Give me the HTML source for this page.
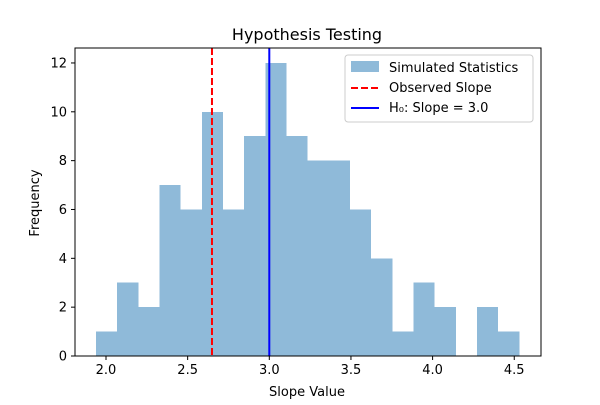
<!DOCTYPE html>
<html><head><meta charset="utf-8"><style>
body{margin:0;background:#fff;font-family:"Liberation Sans","DejaVu Sans",sans-serif;}
svg text{font-family:"DejaVu Sans","Liberation Sans",sans-serif;}
</style></head><body>
<svg id="c" width="600" height="400" xmlns="http://www.w3.org/2000/svg"></svg>
<script>
const counts=[1,3,2,7,6,10,6,9,12,9,8,8,6,4,1,3,2,0,2,1];
const binStart=1.939, binWidth=0.1296;
const observedSlope=2.649;
const nullSlope=3.0;
const xTicks=[2.0,2.5,3.0,3.5,4.0,4.5];
const xTickLabels=["2.0","2.5","3.0","3.5","4.0","4.5"];
const yTicks=[0,2,4,6,8,10,12];
const L=75,R=541,T=48,B=356;
const sx=v=>106+(v-2.0)*163.3;
const sy=v=>B-v*24.42;
const svg=document.getElementById('c');
const NS='http://www.w3.org/2000/svg';
function mk(tag,attrs,txt){const e=document.createElementNS(NS,tag);for(const k in attrs)e.setAttribute(k,attrs[k]);if(txt!==undefined)e.textContent=txt;svg.appendChild(e);return e;}
counts.forEach((c,i)=>{if(c<=0)return;
 const x0=sx(binStart+i*binWidth),x1=sx(binStart+(i+1)*binWidth);
 const r=mk('rect',{x:x0,y:sy(c),width:x1-x0,height:B-sy(c),fill:'#8fbad9','shape-rendering':'crispEdges'});
 
 
});
let l=mk('line',{x1:sx(observedSlope),x2:sx(observedSlope),y1:T,y2:B,stroke:'#ff0000','stroke-width':2,'stroke-dasharray':'7,3'});

l=mk('line',{x1:sx(nullSlope),x2:sx(nullSlope),y1:T,y2:B,stroke:'#0000ff','stroke-width':2});

let f=mk('rect',{x:L,y:T,width:R-L,height:B-T,fill:'none',stroke:'#000','stroke-width':1});

xTicks.forEach((v,i)=>{const x=sx(v);mk('line',{x1:x,x2:x,y1:B,y2:B+4,stroke:'#000'});
 const t=mk('text',{x:x,y:B+18,'text-anchor':'middle','font-size':13},xTickLabels[i]);
 });
yTicks.forEach(v=>{const y=sy(v);mk('line',{x1:L-4,x2:L,y1:y,y2:y,stroke:'#000'});
 const t=mk('text',{x:L-8,y:y+4.5,'text-anchor':'end','font-size':13},String(v));
 });
let t=mk('text',{x:307,y:40,'text-anchor':'middle','font-size':16},'Hypothesis Testing');

t=mk('text',{x:307,y:396,'text-anchor':'middle','font-size':13},'Slope Value');

t=mk('text',{x:39,y:203,'text-anchor':'middle','font-size':13,transform:'rotate(-90 39 203)'},'Frequency');

let lg=mk('rect',{x:345,y:55,width:188,height:67,fill:'#fff',stroke:'#ccc',rx:3});

mk('rect',{x:351,y:61,width:28,height:11,fill:'#8fbad9'});
mk('line',{x1:351,x2:379,y1:88,y2:88,stroke:'#ff0000','stroke-width':2,'stroke-dasharray':'7,3'});
mk('line',{x1:351,x2:379,y1:108,y2:108,stroke:'#0000ff','stroke-width':2});
[['Simulated Statistics',72],['Observed Slope',92],['H₀: Slope = 3.0',112]].forEach(([s,y])=>{
 const e=mk('text',{x:389,y:y,'font-size':13},s);
 });
</script>
</body></html>
